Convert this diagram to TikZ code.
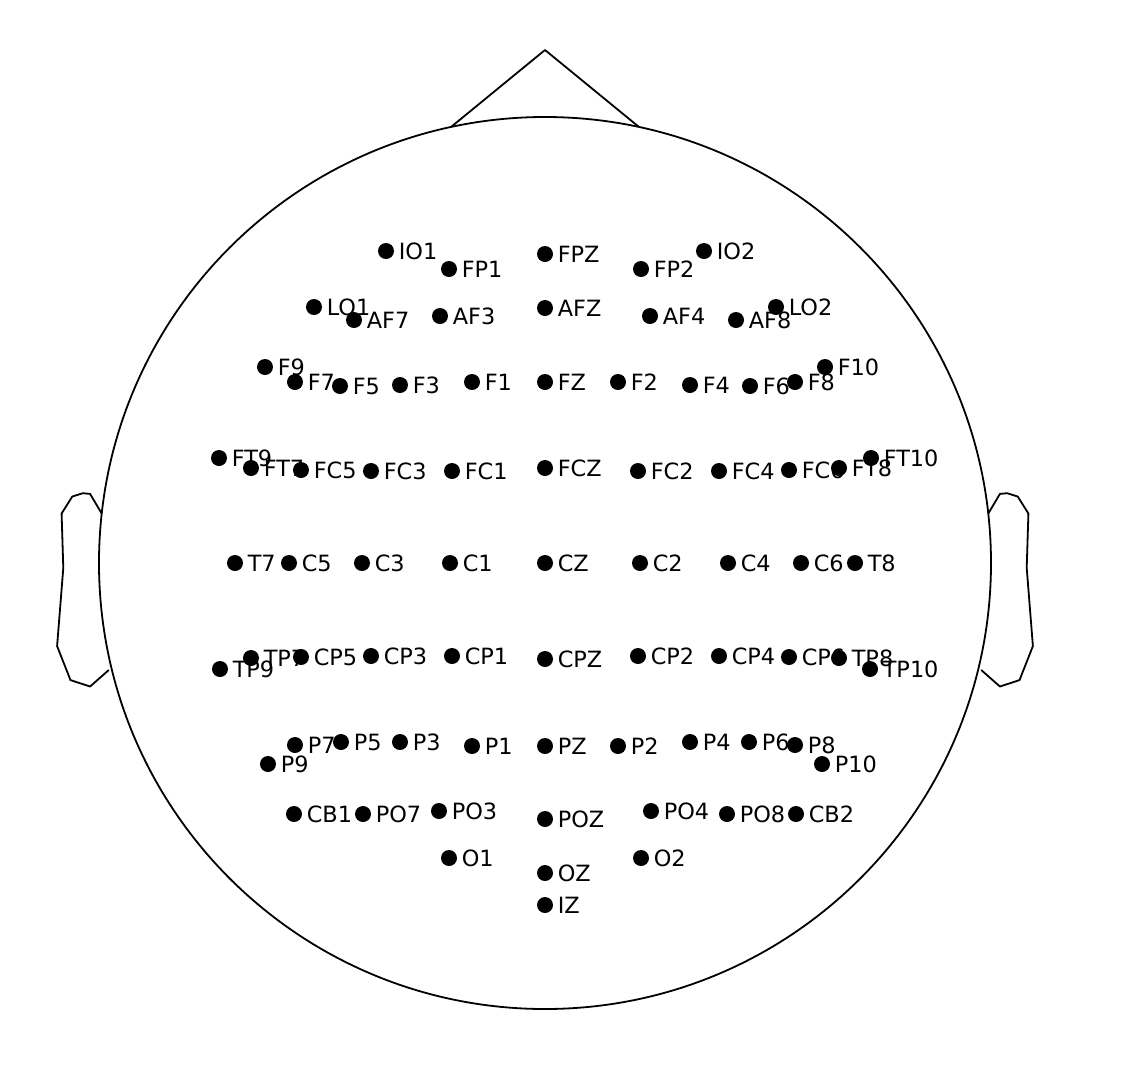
\documentclass[tikz,border=0pt]{standalone}
\usepackage{fontspec}
\setmainfont{DejaVu Sans}
\usetikzlibrary{positioning}

\begin{document}
\begin{tikzpicture}[
		x=0.5pt, y=0.5pt
		,dot/.style={circle, fill=black, inner sep=0pt, minimum size=8pt}
		,lab/.style={inner sep=0pt, font=\fontsize{11.2}{13}\selectfont}
		,outline/.style={line width=0.9pt, line join=round}
	]
		\useasboundingbox (-545,-521) rectangle (583,563);

		% head, nose and ears
		\draw[outline] (0,0) circle[radius=223pt];
		\draw[outline] (-94,436) -- (0,513) -- (94,436);
		\draw[outline] (-443.3,49.5) -- (-454.9,69.1) -- (-462.1,69.8) -- (-472.7,66.5) -- (-483.4,49.5)
			-- (-481.7,-4.9) -- (-487.9,-83.1) -- (-474.5,-117.1) -- (-454.9,-123.5) -- (-436.2,-107);
		\draw[outline] (443.3,49.5) -- (454.9,69.1) -- (462.1,69.8) -- (472.7,66.5) -- (483.4,49.5)
			-- (481.7,-4.9) -- (487.9,-83.1) -- (474.5,-117.1) -- (454.9,-123.5) -- (436.2,-107);

		% sensors
		\node[dot] (IO1) at (-159,312) {};
		\node[dot] (IO2) at (159,312) {};
		\node[dot] (FP1) at (-96,294) {};
		\node[dot] (FPZ) at (0,309) {};
		\node[dot] (FP2) at (96,294) {};
		\node[dot] (LO1) at (-231,256) {};
		\node[dot] (LO2) at (231,256) {};
		\node[dot] (AF7) at (-191,243) {};
		\node[dot] (AF3) at (-105,247) {};
		\node[dot] (AFZ) at (0,255) {};
		\node[dot] (AF4) at (105,247) {};
		\node[dot] (AF8) at (191,243) {};
		\node[dot] (F9) at (-280,196) {};
		\node[dot] (F7) at (-250,181) {};
		\node[dot] (F5) at (-205,177) {};
		\node[dot] (F3) at (-145,178) {};
		\node[dot] (F1) at (-73,181) {};
		\node[dot] (FZ) at (0,181) {};
		\node[dot] (F2) at (73,181) {};
		\node[dot] (F4) at (145,178) {};
		\node[dot] (F6) at (205,177) {};
		\node[dot] (F8) at (250,181) {};
		\node[dot] (F10) at (280,196) {};
		\node[dot] (FT9) at (-326,105) {};
		\node[dot] (FT7) at (-294,95) {};
		\node[dot] (FC5) at (-244,93) {};
		\node[dot] (FC3) at (-174,92) {};
		\node[dot] (FC1) at (-93,92) {};
		\node[dot] (FCZ) at (0,95) {};
		\node[dot] (FC2) at (93,92) {};
		\node[dot] (FC4) at (174,92) {};
		\node[dot] (FC6) at (244,93) {};
		\node[dot] (FT8) at (294,95) {};
		\node[dot] (FT10) at (326,105) {};
		\node[dot] (T7) at (-310,0) {};
		\node[dot] (C5) at (-256,0) {};
		\node[dot] (C3) at (-183,0) {};
		\node[dot] (C1) at (-95,0) {};
		\node[dot] (CZ) at (0,0) {};
		\node[dot] (C2) at (95,0) {};
		\node[dot] (C4) at (183,0) {};
		\node[dot] (C6) at (256,0) {};
		\node[dot] (T8) at (310,0) {};
		\node[dot] (TP9) at (-325,-106) {};
		\node[dot] (TP7) at (-294,-95) {};
		\node[dot] (CP5) at (-244,-94) {};
		\node[dot] (CP3) at (-174,-93) {};
		\node[dot] (CP1) at (-93,-93) {};
		\node[dot] (CPZ) at (0,-96) {};
		\node[dot] (CP2) at (93,-93) {};
		\node[dot] (CP4) at (174,-93) {};
		\node[dot] (CP6) at (244,-94) {};
		\node[dot] (TP8) at (294,-95) {};
		\node[dot] (TP10) at (325,-106) {};
		\node[dot] (P9) at (-277,-201) {};
		\node[dot] (P7) at (-250,-182) {};
		\node[dot] (P5) at (-204,-179) {};
		\node[dot] (P3) at (-145,-179) {};
		\node[dot] (P1) at (-73,-183) {};
		\node[dot] (PZ) at (0,-183) {};
		\node[dot] (P2) at (73,-183) {};
		\node[dot] (P4) at (145,-179) {};
		\node[dot] (P6) at (204,-179) {};
		\node[dot] (P8) at (250,-182) {};
		\node[dot] (P10) at (277,-201) {};
		\node[dot] (CB1) at (-251,-251) {};
		\node[dot] (PO7) at (-182,-251) {};
		\node[dot] (PO3) at (-106,-248) {};
		\node[dot] (POZ) at (0,-256) {};
		\node[dot] (PO4) at (106,-248) {};
		\node[dot] (PO8) at (182,-251) {};
		\node[dot] (CB2) at (251,-251) {};
		\node[dot] (O1) at (-96,-295) {};
		\node[dot] (OZ) at (0,-310) {};
		\node[dot] (O2) at (96,-295) {};
		\node[dot] (IZ) at (0,-342) {};

		% names, on top of the dots
		\foreach \s in {IO1,IO2,FP1,FPZ,FP2,LO1,LO2,AF7,AF3,AFZ,AF4,AF8,
			F9,F7,F5,F3,F1,FZ,F2,F4,F6,F8,F10,
			FT9,FT7,FC5,FC3,FC1,FCZ,FC2,FC4,FC6,FT8,FT10,
			T7,C5,C3,C1,CZ,C2,C4,C6,T8,
			TP9,TP7,CP5,CP3,CP1,CPZ,CP2,CP4,CP6,TP8,TP10,
			P9,P7,P5,P3,P1,PZ,P2,P4,P6,P8,P10,
			CB1,PO7,PO3,POZ,PO4,PO8,CB2,O1,OZ,O2,IZ}
			\node[lab, right=2pt of \s] {\s};
	\end{tikzpicture}
\end{document}
